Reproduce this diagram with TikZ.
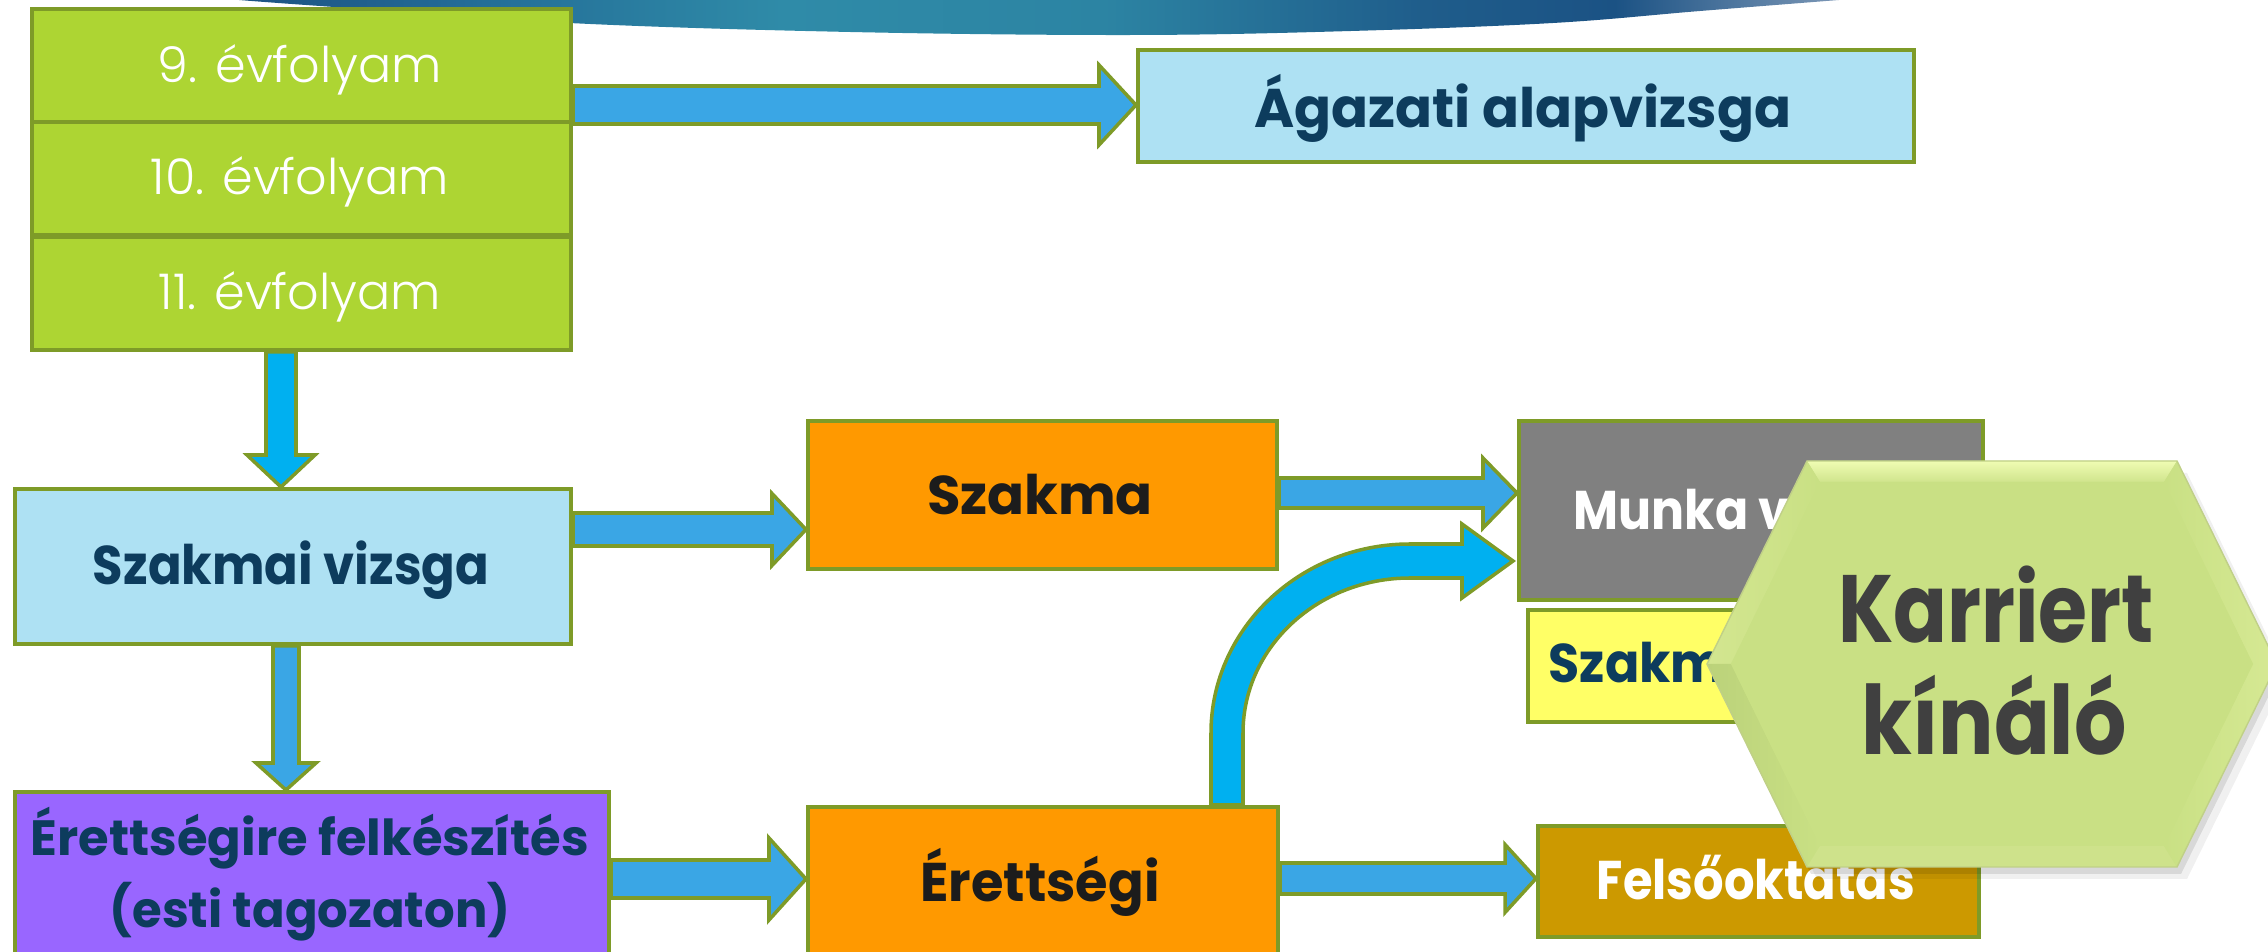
\documentclass[tikz,border=0pt]{standalone}
\usepackage{fontspec}
\usepackage{graphicx}
\setmainfont{Poppins}
\newfontfamily\lightfont{Poppins Light}
\usetikzlibrary{calc}
\pgfdeclarelayer{bg}
\pgfsetlayers{bg,main}
\definecolor{olivebd}{HTML}{7E9B28}
\definecolor{greenf}{HTML}{ADD533}
\definecolor{lblue}{HTML}{AEE1F3}
\definecolor{ablue}{HTML}{3AA6E5}
\definecolor{cyanA}{HTML}{00B0F0}
\definecolor{orangeF}{HTML}{FF9900}
\definecolor{greyF}{HTML}{808080}
\definecolor{yellowF}{HTML}{FFFF66}
\definecolor{goldF}{HTML}{CC9900}
\definecolor{purpleF}{HTML}{9966FF}
\definecolor{navyT}{HTML}{0D3C5D}
\definecolor{darkT}{HTML}{1C1C1C}
\definecolor{hexT}{HTML}{404040}
\definecolor{sw1}{HTML}{1D5283}
\definecolor{sw2}{HTML}{246F98}
\definecolor{sw3}{HTML}{2F8BA8}
\definecolor{sw4}{HTML}{2C84A3}
\definecolor{sw5}{HTML}{1F5D8B}
\definecolor{sw6}{HTML}{1B5284}
\definecolor{sw7}{HTML}{7C97B6}
\pgfdeclarehorizontalshading{swoosh}{100bp}{color(0bp)=(sw1); color(25bp)=(sw1); color(33bp)=(sw2); color(42bp)=(sw3); color(52bp)=(sw4); color(62bp)=(sw5); color(68bp)=(sw6); color(75bp)=(sw7); color(100bp)=(sw7)}
\definecolor{hexIn}{HTML}{C9E084}
\definecolor{hexTop}{HTML}{EFFCB3}
\definecolor{hexUL}{HTML}{D3E690}
\definecolor{hexLL}{HTML}{BBD27A}
\definecolor{hexB}{HTML}{CEE28B}
\definecolor{hexR}{HTML}{D6E994}
\tikzset{
  boxbase/.style={draw=olivebd, line width=1.1pt, inner sep=0pt, anchor=north west, rectangle},
  blockarrow/.style={draw=olivebd, line width=1pt, line join=miter},
  lighttxt/.style={text=white, font=\lightfont\fontsize{14.0}{17}\selectfont, anchor=base, inner sep=0pt},
  boldtxt/.style={font=\bfseries\fontsize{15.5}{18}\selectfont, anchor=base, inner sep=0pt},
}
\newcommand\hblock[7]{%
  \draw[blockarrow, fill=#7] ($(#1 |- #3)+(0,-#4)$) -- ($(#2 |- #3)+(-#6,-#4)$) -- ($(#2 |- #3)+(-#6,-#5)$) -- (#2 |- #3) -- ($(#2 |- #3)+(-#6,#5)$) -- ($(#2 |- #3)+(-#6,#4)$) -- ($(#1 |- #3)+(0,#4)$) -- cycle;}
\newcommand\vblock[7]{%
  \draw[blockarrow, fill=#7] ($(#1 -| #3)+(-#4,0)$) -- ($(#2 -| #3)+(-#4,-#6)$) -- ($(#2 -| #3)+(-#5,-#6)$) -- (#2 -| #3) -- ($(#2 -| #3)+(#5,-#6)$) -- ($(#2 -| #3)+(#4,-#6)$) -- ($(#1 -| #3)+(#4,0)$) -- cycle;}
\begin{document}
\begin{tikzpicture}[x=0.01cm,y=-0.01cm]
\useasboundingbox (0,0) rectangle (2268,952);
% boxes
\node[boxbase, fill=greenf, minimum width=5.39cm, minimum height=1.13cm] (g9) at (30,7) {};
\node[boxbase, fill=greenf, minimum width=5.39cm, minimum height=1.13cm] (g10) at (30,120) {};
\node[boxbase, fill=greenf, minimum width=5.39cm, minimum height=1.13cm] (g11) at (30,235) {};
\node[boxbase, fill=lblue, minimum width=7.76cm, minimum height=1.12cm] (agazati) at (1136,48) {};
\node[boxbase, fill=lblue, minimum width=5.56cm, minimum height=1.55cm] (szv) at (13,487) {};
\node[boxbase, fill=orangeF, minimum width=4.69cm, minimum height=1.48cm] (szakma) at (806,419) {};
\node[boxbase, fill=greyF, minimum width=4.64cm, minimum height=1.79cm] (munka) at (1517,419) {};
\node[boxbase, fill=yellowF, minimum width=4.49cm, minimum height=1.12cm] (szakmbox) at (1526,608) {};
\node[boxbase, fill=goldF, minimum width=4.41cm, minimum height=1.11cm] (felso) at (1536,824) {};
\node[boxbase, fill=orangeF, minimum width=4.70cm, minimum height=1.60cm] (erettsegi) at (806,805) {};
\node[boxbase, fill=purpleF, minimum width=5.94cm, minimum height=1.70cm] (felk) at (13,790) {};
% texts
\node[lighttxt] (t9) at (300,83) {9. évfolyam};
\node[lighttxt] (t10) at (300,195) {10. évfolyam};
\node[lighttxt] (t11) at (300,310) {11. évfolyam};
\node[boldtxt, text=navyT] (tag) at (1523,128) {Ágazati alapvizsga};
\node[boldtxt, text=navyT] (tszv) at (291,585) {\scalebox{0.91}[1]{Szakmai vizsga}};
\node[boldtxt, text=darkT] (tszakma) at (1040,515) {Szakma};
\node[boldtxt, text=darkT] (terett) at (1040,902) {\scalebox{0.965}[1]{Érettségi}};
\node[boldtxt, text=white, anchor=base west] (tmunka) at (1573,530) {\scalebox{0.9}[1]{Munka v}};
\node[boldtxt, text=navyT, anchor=base west] (tszakm) at (1548,683) {\scalebox{0.93}[1]{Szakm}};
\node[boldtxt, text=white] (tfelso) at (1756,900) {\scalebox{0.88}[1]{Felsőoktatás}};
\node[boldtxt, text=navyT, font=\bfseries\fontsize{14.1}{16}\selectfont] (tfelk1) at (310,856) {Érettségire felkészítés};
\node[boldtxt, text=navyT, font=\bfseries\fontsize{14.1}{16}\selectfont] (tfelk2) at (310,928) {\scalebox{0.97}[1]{(esti tagozaton)}};
% background: swoosh and arrows
\begin{pgfonlayer}{bg}
\shade[shading=swoosh] plot[smooth, tension=0.6] coordinates {(239,0) (320,6) (569,23) (850,32) (1134,35) (1351,31) (1553,23) (1700,11) (1839,0)} -- (1839,-10) -- (239,-10) -- cycle;
\coordinate (a1) at (0,105);
\coordinate (a2) at (0,529.5);
\coordinate (a3) at (0,493);
\coordinate (a4) at (0,879);
\coordinate (a5) at (0,878.5);
\coordinate (d1) at (281,0);
\coordinate (d2) at (286,0);
\hblock{g9.east}{agazati.west}{a1}{19}{40}{37}{ablue}
\hblock{szv.east}{szakma.west}{a2}{16.5}{36}{34}{ablue}
\hblock{szakma.east}{munka.west}{a3}{15}{35}{34}{ablue}
\hblock{felk.east}{erettsegi.west}{a4}{19}{41}{37}{ablue}
\hblock{erettsegi.east}{felso.west}{a5}{15.5}{34}{31}{ablue}
\vblock{g11.south}{szv.north}{d1}{15}{34}{32}{cyanA}
\vblock{szv.south}{felk.north}{d2}{13}{30}{27}{ablue}
% curved arrow
\coordinate (cv) at (1227,733);
\coordinate (ch) at (1410,561);
\draw[blockarrow, fill=cyanA] ($(erettsegi.north -| cv)+(-16,0)$) -- ($(cv)+(-16,0)$)
  .. controls ($(cv)+(-16,-104)$) and ($(ch)+(-110,-17)$) .. ($(ch)+(0,-17)$)
  -- ($(munka.west |- ch)+(-55,-17)$) -- ($(munka.west |- ch)+(-55,-37)$) -- ($(munka.west |- ch)+(-4,0)$)
  -- ($(munka.west |- ch)+(-55,37)$) -- ($(munka.west |- ch)+(-55,17)$) -- ($(ch)+(0,17)$)
  .. controls ($(ch)+(-92,17)$) and ($(cv)+(16,-86)$) .. ($(cv)+(16,0)$)
  -- ($(erettsegi.north -| cv)+(16,0)$) -- cycle;
\end{pgfonlayer}
% hexagon
\coordinate (hL) at (1707,664); \coordinate (hTL) at (1807,461); \coordinate (hTR) at (2177,461);
\coordinate (hR) at (2277,664); \coordinate (hBR) at (2177,867); \coordinate (hBL) at (1807,867);
\coordinate (iL) at (1731,664); \coordinate (iTL) at (1820,482); \coordinate (iTR) at (2164,482);
\coordinate (iR) at (2253,664); \coordinate (iBR) at (2164,846); \coordinate (iBL) at (1820,846);
\fill[black, opacity=0.06] ($(hL)+(10,12)$) -- ($(hTL)+(10,12)$) -- ($(hTR)+(10,12)$) -- ($(hR)+(10,12)$) -- ($(hBR)+(10,12)$) -- ($(hBL)+(10,12)$) -- cycle;
\fill[black, opacity=0.10] ($(hL)+(4,7)$) -- ($(hTL)+(4,7)$) -- ($(hTR)+(4,7)$) -- ($(hR)+(4,7)$) -- ($(hBR)+(4,7)$) -- ($(hBL)+(4,7)$) -- cycle;
\fill[hexIn] (hL) -- (hTL) -- (hTR) -- (hR) -- (hBR) -- (hBL) -- cycle;
\shade[top color=hexTop, bottom color=hexUL!70!hexIn] (hTL) -- (hTR) -- (iTR) -- (iTL) -- cycle;
\shade[left color=hexUL, right color=hexIn] (hL) -- (hTL) -- (iTL) -- (iL) -- cycle;
\shade[left color=hexLL, right color=hexIn] (hL) -- (hBL) -- (iBL) -- (iL) -- cycle;
\fill[hexB] (hBL) -- (hBR) -- (iBR) -- (iBL) -- cycle;
\shade[left color=hexIn, right color=hexR] (hBR) -- (hR) -- (iR) -- (iBR) -- cycle;
\shade[left color=hexIn, right color=hexR] (hTR) -- (hR) -- (iR) -- (iTR) -- cycle;
\fill[hexIn] (iL) -- (iTL) -- (iTR) -- (iR) -- (iBR) -- (iBL) -- cycle;
\draw[hexIn!80!black!60!hexTop, line width=0.4pt] (hL) -- (hTL) -- (hTR) -- (hR) -- (hBR) -- (hBL) -- cycle;
\node[text=hexT, font=\bfseries\fontsize{27.2}{30}\selectfont, anchor=base, inner sep=0pt] (tk1) at (1996,643) {\scalebox{0.83}[1]{Karriert}};
\node[text=hexT, font=\bfseries\fontsize{27.2}{30}\selectfont, anchor=base, inner sep=0pt] (tk2) at (1994,755) {\scalebox{0.86}[1]{kínáló}};
\end{tikzpicture}
\end{document}
